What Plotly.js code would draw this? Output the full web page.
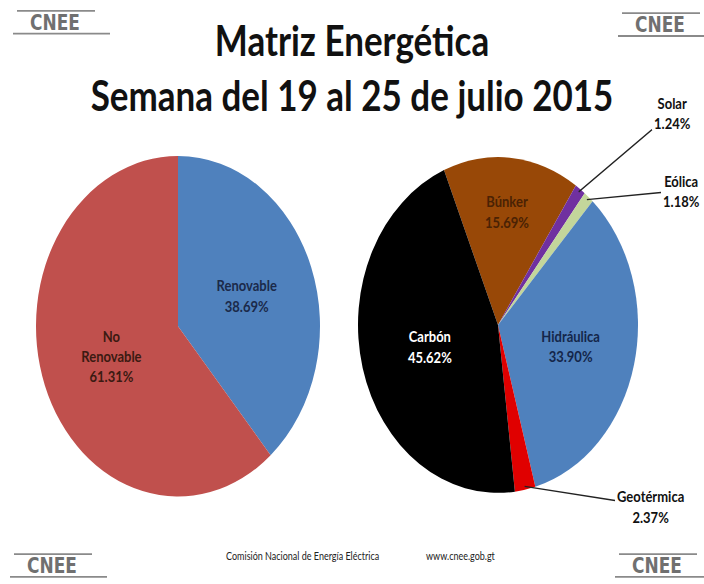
<!DOCTYPE html>
<html>
<head>
<meta charset="utf-8">
<script src="https://cdn.plot.ly/plotly-3.0.1.min.js"></script>
<style>
  html { overflow: hidden; }
  html, body { margin: 0; padding: 0; background: #ffffff; }
  #wrap { width: 704px; height: 584px; position: relative; }
  #chart { width: 704px; height: 487px; position: absolute; left: 0; top: 0;
           transform: scaleY(1.1992); transform-origin: 0 0; }
</style>
</head>
<body>
<div id="wrap"><div id="chart"></div></div>
<script>
// ---- data ----
const leftLabels = ['Renovable', 'No Renovable'];
const leftValues = [38.69, 61.31];

const rightLabels = ['Búnker', 'Solar', 'Eólica', 'Hidráulica', 'Geotérmica', 'Carbón'];
const rightValues = [15.69, 1.24, 1.18, 33.90, 2.37, 45.62];

const titleText = 'Matriz Energética<br>Semana del 19 al 25 de julio 2015';
const footerOrg = 'Comisión Nacional de Energía Eléctrica';
const footerWeb = 'www.cnee.gob.gt';
const logoText = 'CNEE';

// ---- styling ----
const W = 704, H = 487;
const FONT = 'Lato, "Open Sans", sans-serif';
const leftColors = ['#4F81BD', '#C0504D'];
const leftTextColors = ['#1B2A4A', '#3B1A12'];
const rightColors = ['#984807', '#7030A0', '#C3D69B', '#4F81BD', '#E00000', '#000000'];
const rightTextColors = ['#4A2204', '#000', '#000', '#14264A', '#000', '#FFFFFF'];
const rightTextPos = ['inside', 'none', 'none', 'inside', 'none', 'inside'];
const rightRotation = -22.7;

const leftDomain = {x: [36 / W, 320 / W], y: [1 - 414 / H, 1 - 130 / H]};
const rightDomain = {x: [358 / W, 638 / W], y: [1 - 411 / H, 1 - 131 / H]};

const traces = [
  {
    type: 'pie', labels: leftLabels, values: leftValues, sort: false,
    direction: 'clockwise', rotation: 0, domain: leftDomain,
    marker: {colors: leftColors, line: {width: 0}},
    text: leftLabels.map(l => l.replace(' ', '<br>')),
    texttemplate: '%{text}<br>%{percent:.2%}',
    textposition: 'inside', insidetextorientation: 'horizontal',
    insidetextfont: {family: FONT, size: 13, color: leftTextColors, weight: 'bold'},
    hoverinfo: 'label+percent', showlegend: false
  },
  {
    type: 'pie', labels: rightLabels, values: rightValues, sort: false,
    direction: 'clockwise', rotation: rightRotation, domain: rightDomain,
    marker: {colors: rightColors, line: {width: 0}},
    texttemplate: '%{label}<br>%{percent:.2%}',
    textposition: rightTextPos, insidetextorientation: 'horizontal',
    insidetextfont: {family: FONT, size: 13, color: rightTextColors, weight: 'bold'},
    hoverinfo: 'label+percent', showlegend: false
  }
];

// leader-line annotations for small slices, arrow heads computed from data
function sliceEdge(values, idx, rotation, domain, frac) {
  const total = values.reduce((a, b) => a + b, 0);
  let cum = 0;
  for (let i = 0; i < idx; i++) cum += values[i];
  const ang = (rotation + 360 * (cum + values[idx] / 2) / total) * Math.PI / 180;
  const cx = (domain.x[0] + domain.x[1]) / 2 * W;
  const cy = (1 - (domain.y[0] + domain.y[1]) / 2) * H;
  const r = Math.min((domain.x[1] - domain.x[0]) * W, (domain.y[1] - domain.y[0]) * H) / 2 * frac;
  return [cx + r * Math.sin(ang), cy - r * Math.cos(ang)];
}
const outsideLabels = [
  {idx: 1, tx: 672, ty: 94},
  {idx: 2, tx: 681, ty: 159},
  {idx: 4, tx: 650, ty: 422}
];
const annotations = outsideLabels.map(o => {
  const p = sliceEdge(rightValues, o.idx, rightRotation, rightDomain, 0.98);
  return {
    xref: 'paper', yref: 'paper', x: p[0] / W, y: 1 - p[1] / H,
    axref: 'pixel', ayref: 'pixel', ax: o.tx - p[0], ay: o.ty - p[1],
    showarrow: true, arrowhead: 0, arrowwidth: 1.2, arrowcolor: '#222',
    text: rightLabels[o.idx] + '<br>' + rightValues[o.idx].toFixed(2) + '%',
    font: {family: FONT, size: 13, color: '#111', weight: 'bold'}, align: 'center'
  };
});

// footer
const footFont = {family: '"Liberation Sans Narrow", Lato, sans-serif', size: 9, color: '#222'};
annotations.push(
  {xref: 'paper', yref: 'paper', x: 302 / W, y: 1 - 463 / H, xanchor: 'center', yanchor: 'middle',
   showarrow: false, text: footerOrg, font: footFont},
  {xref: 'paper', yref: 'paper', x: 461 / W, y: 1 - 463 / H, xanchor: 'center', yanchor: 'middle',
   showarrow: false, text: footerWeb, font: footFont}
);

// logos (decorative)
const logoPos = [[55, 19], [660, 21], [52, 472], [657, 472]];
const shapes = [];
logoPos.forEach(([lx, ly]) => {
  annotations.push({xref: 'paper', yref: 'paper', x: lx / W, y: 1 - ly / H,
    xanchor: 'center', yanchor: 'middle', showarrow: false,
    text: logoText, font: {family: '"DejaVu Sans", sans-serif', size: 17, color: '#707070', weight: 'bold'}});
  shapes.push(
    {type: 'line', xref: 'paper', yref: 'paper', x0: (lx - 38) / W, x1: (lx + 40) / W,
     y0: 1 - (ly - 10) / H, y1: 1 - (ly - 10) / H, line: {color: '#8a8a8a', width: 1.5}},
    {type: 'line', xref: 'paper', yref: 'paper', x0: (lx - 42) / W, x1: (lx + 55) / W,
     y0: 1 - (ly + 9) / H, y1: 1 - (ly + 9) / H, line: {color: '#8a8a8a', width: 1.5}}
  );
});

const layout = {
  width: W, height: H,
  margin: {l: 0, r: 0, t: 0, b: 0},
  paper_bgcolor: '#ffffff',
  showlegend: false,
  title: {
    text: titleText, x: 0.5, xanchor: 'center', xref: 'paper',
    y: 1 - 47 / H, yref: 'container', yanchor: 'middle',
    font: {family: FONT, size: 35, color: '#111', weight: 'bold'}
  },
  annotations: annotations,
  shapes: shapes
};

Plotly.newPlot('chart', traces, layout, {displayModeBar: false, staticPlot: true});
</script>
</body>
</html>
